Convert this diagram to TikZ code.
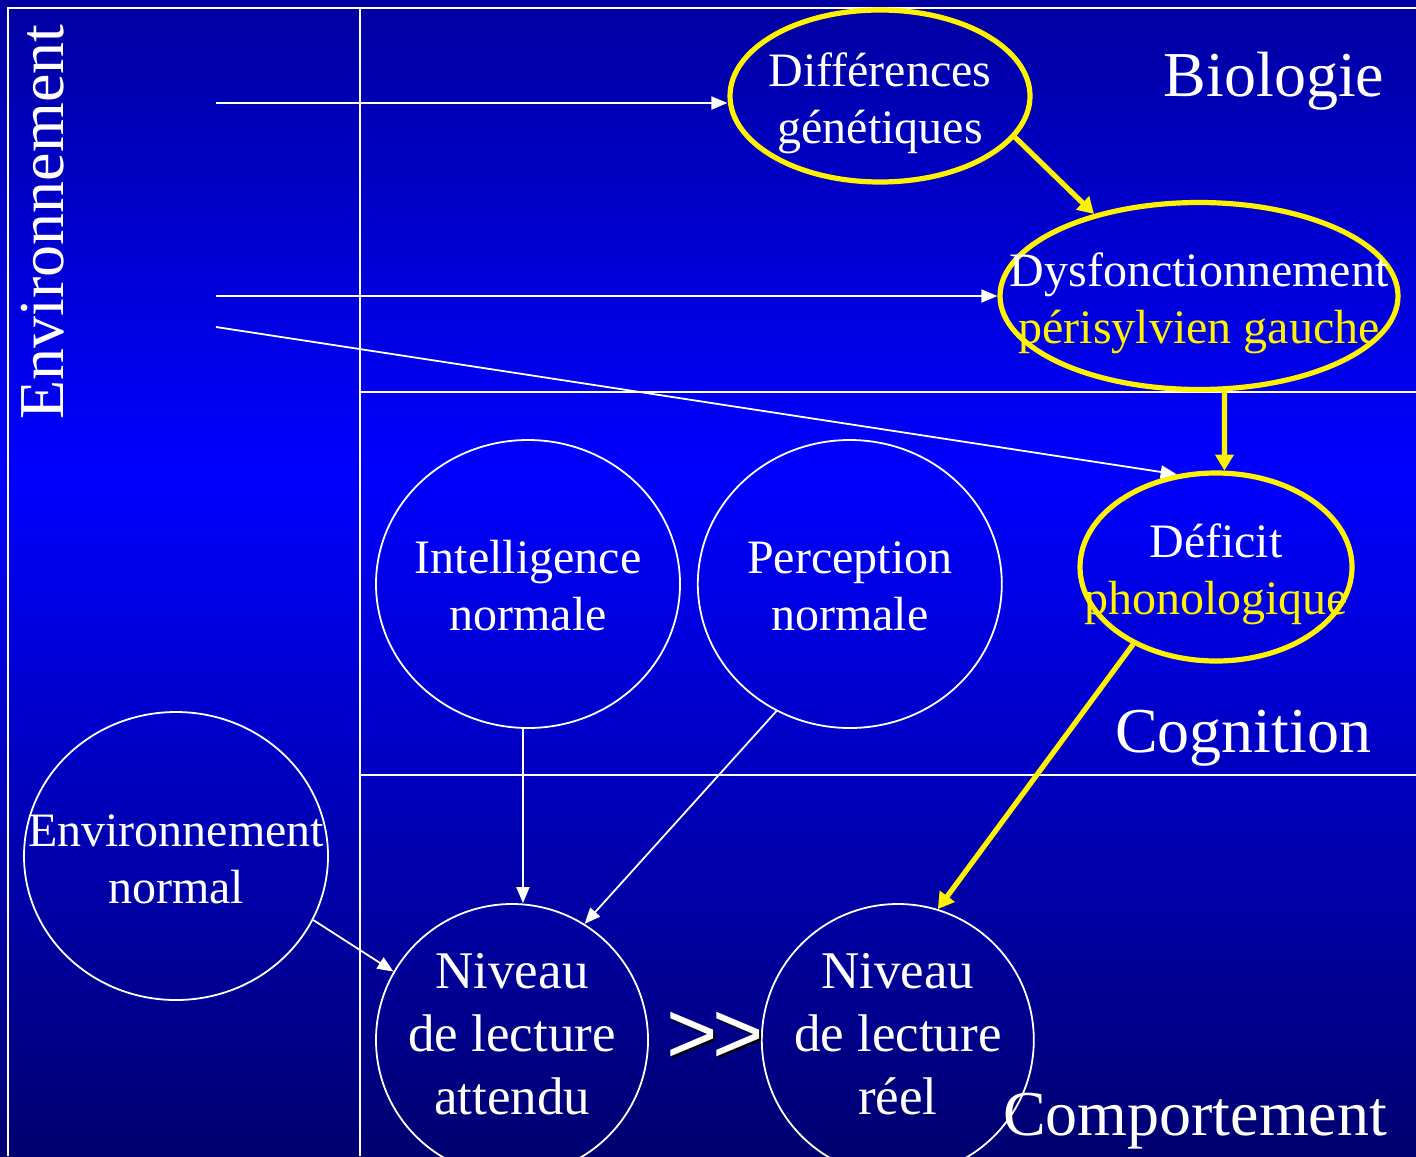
\documentclass[tikz,border=0pt]{standalone}
\usepackage{fontspec}
\setmainfont{Liberation Serif}
\newfontfamily\arialfont{Liberation Sans}
\usetikzlibrary{shapes.geometric, arrows.meta, positioning}

\definecolor{bgtop}{RGB}{0,0,160}
\definecolor{bgmid}{RGB}{0,0,255}
\definecolor{bgbot}{RGB}{0,0,112}

\tikzstyle{bubble} = [ellipse, draw=white, line width=0.9pt, inner sep=0pt, minimum width=152pt, minimum height=144pt]
\tikzstyle{ybubble} = [ellipse, draw=yellow, line width=2.6pt, inner sep=0pt]
\tikzstyle{txt} = [text=white, align=center, inner sep=0pt, font=\fontsize{24}{28.5}\selectfont]
\tikzstyle{bigtxt} = [text=white, align=center, inner sep=0pt, font=\fontsize{26.5}{31.5}\selectfont]
\tikzstyle{zone} = [text=white, inner sep=0pt, anchor=base, font=\fontsize{32}{36}\selectfont]
\tikzstyle{frame} = [draw=white, line width=1.2pt]
\tikzstyle{wline} = [draw=white, line width=0.9pt, -{Triangle[length=8pt,width=6.5pt]}]
\tikzstyle{yline} = [draw=yellow, line width=2.6pt, -{Triangle[length=8pt,width=9pt]}]

\begin{document}
\begin{tikzpicture}[x=0.5pt, y=-0.5pt, node distance=8pt]
	\useasboundingbox (0,0) rectangle (1416,1156);
	\clip (0,0) rectangle (1416,1156);
	% fond
	\shade[top color=bgtop, bottom color=bgmid] (0,0) rectangle (1416,471);
	\shade[top color=bgmid, bottom color=bgbot] (0,470) rectangle (1416,1156);
	\path[frame] (1416,8) -- (8,8) -- (8,1156);
	\path[frame] (360,8) -- (360,1156);
	\path[frame] (360,392) -- (1416,392);
	\path[frame] (360,775) -- (1416,775);

	% zones
	\node[zone] (bio) at (1274,97) {Biologie};
	\node[zone] (cog) at (1243,752) {Cognition};
	\node[zone] (comp) at (1195,1135) {Comportement};
	\node[zone, rotate=90] (env) at (63,222) {Environnement};

	% biologie
	\node[ybubble, minimum width=150pt, minimum height=86pt] (dg) at (880,96) {};
	\node[txt, yshift=-3.5pt] (dg-t) at (dg) {Différences\\génétiques};
	\node[ybubble, minimum width=199pt, minimum height=93.5pt] (dp) at (1199,296) {};
	\node[txt, yshift=-3.5pt] (dp-t) at (dp) {Dysfonctionnement\\\textcolor{yellow}{périsylvien gauche}};

	% cognition
	\node[ybubble, minimum width=136pt, minimum height=94pt] (df) at (1216,567) {};
	\node[txt, yshift=-3.5pt] (df-t) at (df) {Déficit\\\textcolor{yellow}{phonologique}};
	\node[bubble] (in) at (528,584) {};
	\node[txt, yshift=-1pt] (in-t) at (in) {Intelligence\\normale};
	\node[bubble, right=of in] (pc) {};
	\node[txt, yshift=-1pt] (pc-t) at (pc) {Perception\\normale};

	% comportement
	\node[bubble] (en) at (176,856) {};
	\node[txt, yshift=-1.5pt] (en-t) at (en) {Environnement\\normal};
	\node[bubble, minimum width=136pt, minimum height=136pt] (at) at (512,1040) {};
	\node[bigtxt, yshift=3pt] (at-t) at (at) {Niveau\\de lecture\\attendu};
	\node[bubble, minimum width=136pt, minimum height=136pt, right=56pt of at] (re) {};
	\node[bigtxt, yshift=3pt] (re-t) at (re) {Niveau\\de lecture\\réel};
	\node[text=black, font=\arialfont\fontsize{44}{48}\selectfont] at (717,1040) {>\kern-3pt>};
	\node[text=white, font=\arialfont\fontsize{44}{48}\selectfont] (gt) at (715,1038) {>\kern-3pt>};

	% fleches
	\coordinate (g1) at (216,103);
	\coordinate (g2) at (216,296);
	\coordinate (g3) at (216,327);
	\path[wline] (g1) -- (g1 -| dg.west);
	\path[wline] (g2) -- (dp.west);
	\path[wline] (g3) -- (df.113);
	\path[wline] (in.268) -- (in.268 |- at.north);
	\path[wline] (pc.240) -- (at.58);
	\path[wline] (en.335) -- (at.150);
	\path[yline] (dg.343) -- (dp.142);
	\path[yline] (dp.285) -- (df.85);
	\path[yline] (df.223) -- (re.73);
\end{tikzpicture}
\end{document}
